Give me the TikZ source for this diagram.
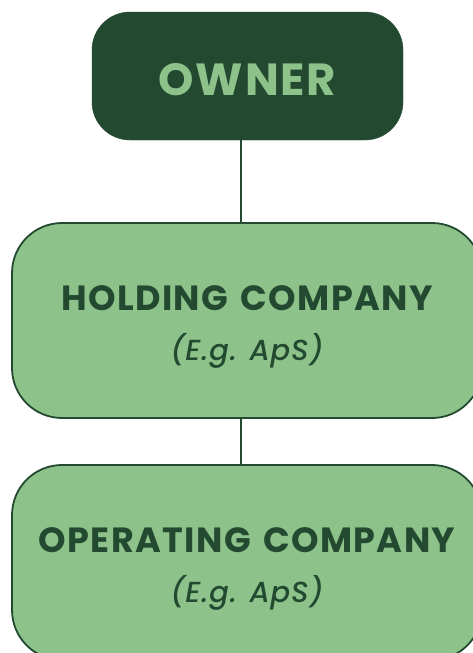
\documentclass[tikz,border=0pt]{standalone}
\usepackage{fontspec}
\setmainfont{Poppins}[LetterSpace=4, WordSpace=1.4]
\newfontfamily\notefont{Poppins}[UprightFont={* Medium Italic}, LetterSpace=3]
\definecolor{forest}{HTML}{234A30}
\definecolor{leaf}{HTML}{8DC38A}
\begin{document}
\begin{tikzpicture}[x=1pt,y=-1pt,
  ownerbox/.style={fill=forest, draw=forest, rounded corners=38pt,
    minimum width=311pt, minimum height=128pt, inner sep=0pt},
  companybox/.style={fill=leaf, draw=forest, line width=1.8pt, rounded corners=50pt,
    minimum width=470pt, minimum height=195pt, inner sep=0pt},
  ownertext/.style={anchor=base, inner sep=0pt, text=leaf,
    font=\fontsize{45}{50}\selectfont\bfseries},
  titletext/.style={anchor=base, inner sep=0pt, text=forest, yshift=10.5pt,
    font=\fontsize{35}{40}\selectfont\bfseries},
  notetext/.style={anchor=base, inner sep=0pt, text=forest, yshift=-40pt,
    font=\fontsize{29}{34}\notefont},
  link/.style={draw=forest, line width=2.2pt}]
\useasboundingbox (0,0) rectangle (473,653);
\clip (0,0) rectangle (473,653);
\fill[white] (0,0) rectangle (473,653);
\coordinate (spine) at (241,0);
% boxes
\node[ownerbox] (owner) at (247.5,76) {};
\node[companybox] (hold) at (247,320.5) {};
\node[companybox] (oper) at (247,562.5) {};
% labels
\node[ownertext] (ownerlbl) at ([yshift=-19pt]owner.center) {OWNER};
\node[titletext] (holdlbl) at (hold.center) {HOLDING COMPANY};
\node[notetext] (holdnote) at (hold.center) {(E.g. ApS)};
\node[titletext] (operlbl) at (oper.center) {OPERATING COMPANY};
\node[notetext] (opernote) at (oper.center) {(E.g. ApS)};
% connectors
\draw[link] (owner.south -| spine) -- (hold.north -| spine);
\draw[link] (hold.south -| spine) -- (oper.north -| spine);
\end{tikzpicture}
\end{document}
